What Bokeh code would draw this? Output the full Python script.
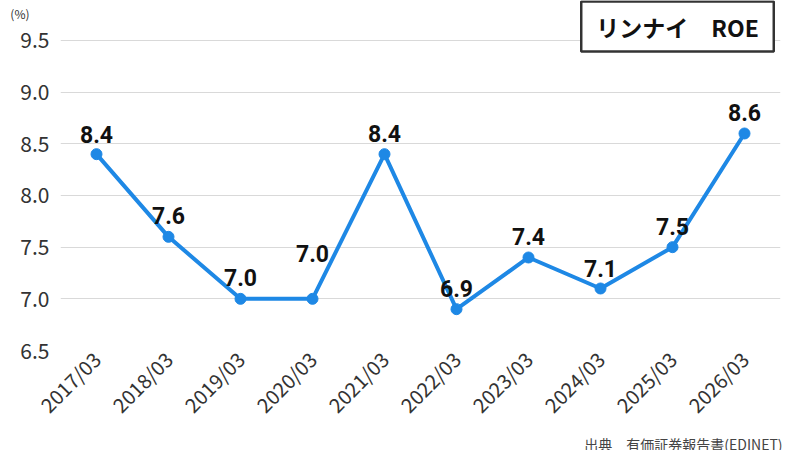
from bokeh.plotting import figure
from bokeh.models import (Range1d, FactorRange, Label, ColumnDataSource, FixedTicker,
                          PrintfTickFormatter, LinearAxis, Title)
from bokeh.core.properties import value
from bokeh.embed import file_html
from bokeh.resources import INLINE

# data
periods = ['2017/03', '2018/03', '2019/03', '2020/03', '2021/03',
           '2022/03', '2023/03', '2024/03', '2025/03', '2026/03']
roe = [8.4, 7.6, 7.0, 7.0, 8.4, 6.9, 7.4, 7.1, 7.5, 8.6]
y_ticks = [6.5, 7.0, 7.5, 8.0, 8.5, 9.0, 9.5]

title_text = 'リンナイ\u3000ROE'
unit_text = '(%)'
source_text = '出典\u3000有価証券報告書(EDINET)'

BLUE = '#1E88E5'
JP = 'Noto Sans CJK JP'

# frame runs up to the canvas top so the title box (a Label) is not clipped;
# the y range is stretched so that 9.5 still sits 40px below the top
p = figure(frame_width=720, frame_height=350, output_backend="svg", toolbar_location=None,
           x_range=FactorRange(*periods), y_range=Range1d(6.5, 9.887),
           min_border_left=60, min_border_right=20,
           min_border_top=0, min_border_bottom=0)
p.outline_line_color = None
p.xgrid.grid_line_color = None
p.ygrid.ticker = FixedTicker(ticks=y_ticks)
p.ygrid.grid_line_color = '#d9d9d9'
p.ygrid.grid_line_width = 1

yax = p.yaxis[0]
yax.ticker = FixedTicker(ticks=y_ticks)
yax.formatter = PrintfTickFormatter(format='%.1f')
xax = p.xaxis[0]
for ax in (xax, yax):
    ax.axis_line_color = None
    ax.major_tick_line_color = None
    ax.minor_tick_line_color = None
    ax.major_tick_out = 0
    ax.major_tick_in = 0
    ax.minor_tick_out = 0
    ax.major_label_text_color = '#333333'
    ax.major_label_text_font = JP
yax.major_label_text_font_size = '21px'
yax.major_label_standoff = 11
xax.major_label_text_font_size = '20px'
xax.major_label_orientation = 0.785
xax.major_label_standoff = 5

# small "(%)" unit mark at the top of the value axis
unit_axis = LinearAxis(ticker=FixedTicker(ticks=[9.76]),
                       major_label_overrides={9.76: unit_text},
                       axis_line_color=None, major_tick_line_color=None,
                       minor_tick_line_color=None, major_tick_out=0, major_tick_in=0,
                       minor_tick_out=0, major_label_standoff=-12,
                       major_label_text_font=JP, major_label_text_font_size='12px',
                       major_label_text_color='#333333')
p.add_layout(unit_axis, 'left')

# label lift above each point (2020/03 is pushed up to clear the line)
label_dy = [-20, -21, -21, -45, -21, -21, -21, -20, -21, -21]
src = ColumnDataSource(dict(x=periods, y=roe, lbl=['%.1f' % v for v in roe], dy=label_dy))
p.line('x', 'y', source=src, line_color=BLUE, line_width=4)
p.scatter('x', 'y', source=src, size=11, fill_color=BLUE, line_color=BLUE)
p.text('x', 'y', text='lbl', source=src, y_offset='dy',
       text_align='center', text_baseline='middle',
       text_font=value('Roboto'), text_font_style='bold',
       text_font_size='23px', text_color='#111111')

# screen units are measured from the frame's lower-left corner
p.add_layout(Label(x=617, y=324, x_units='screen', y_units='screen', text=title_text,
                   text_align='center', text_baseline='middle',
                   text_font=JP, text_font_style='bold',
                   text_font_size='23px', text_color='#111111',
                   background_fill_color='white', border_line_color='#333333',
                   border_line_width=2.5,
                   padding=dict(left=15, right=15, top=8, bottom=8)))

# source note under the date axis
p.add_layout(Title(text=source_text, align='right', offset=-2, standoff=0,
                   text_font=JP, text_font_size='14px', text_font_style='normal',
                   text_color='#444444'), 'below')

open("out.html", "w").write(file_html(p, INLINE))
